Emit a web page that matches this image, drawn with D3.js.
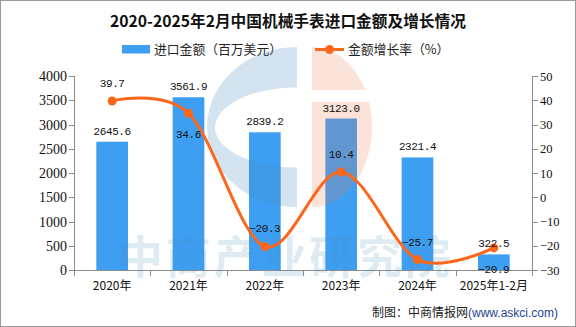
<!DOCTYPE html>
<html>
<head>
<meta charset="utf-8">
<script src="https://cdn.jsdelivr.net/npm/d3@7/dist/d3.min.js"></script>
<style>
  html, body { margin: 0; padding: 0; background: #fff; }
  svg { display: block; }
</style>
</head>
<body>
<svg id="chart" width="576" height="327"></svg>
<script>
// Mechanical watch imports, 2020 – Feb 2025
const categories = ["2020年", "2021年", "2022年", "2023年", "2024年", "2025年1-2月"];
const importValues = [2645.6, 3561.9, 2839.2, 3123.0, 2321.4, 322.5];   // million USD
const growthRates = [39.7, 34.6, -20.3, 10.4, -25.7, -20.9];             // %
const leftTicks = [0, 500, 1000, 1500, 2000, 2500, 3000, 3500, 4000];
const rightTicks = [-30, -20, -10, 0, 10, 20, 30, 40, 50];

const titleText = "2020-2025年2月中国机械手表进口金额及增长情况";
const legendBar = "进口金额（百万美元）";
const legendLine = "金额增长率（%）";
const watermarkText = "中商产业研究院";

const W = 576, H = 327;
const margin = { left: 74, right: 44, top: 76, bottom: 57 };
const plotL = margin.left, plotR = W - margin.right;
const plotT = margin.top, plotB = H - margin.bottom;

const barColor = "#3e9ef2";
const lineColor = "#fd671c";
const axisColor = "#8c8c8c";
const cjk = "'Noto Sans CJK SC', 'Noto Sans', sans-serif";

const svg = d3.select("#chart");

// frame
svg.append("rect").attr("x", 0.5).attr("y", 0.5).attr("width", W - 1).attr("height", H - 1)
  .attr("fill", "#fff").attr("stroke", "#9a9a9a");

// scales
const x = d3.scaleBand().domain(categories).range([plotL, plotR]).paddingInner(0).paddingOuter(0);
const yL = d3.scaleLinear().domain([0, 4000]).range([plotB, plotT]);
const yR = d3.scaleLinear().domain([-30, 50]).range([plotB, plotT]);
const barW = x.step() * 0.415;
const cx = c => x(c) + x.bandwidth() / 2;

// title
svg.append("text").attr("x", 288).attr("y", 27).attr("text-anchor", "middle")
  .attr("font-family", cjk).attr("font-weight", "bold").attr("font-size", 15.7)
  .attr("fill", "#111").text(titleText);

// legend
const lg = svg.append("g").attr("font-family", cjk).attr("font-size", 12.8).attr("fill", "#222");
lg.append("rect").attr("x", 122).attr("y", 45).attr("width", 28).attr("height", 8.5).attr("fill", barColor);
lg.append("text").attr("x", 154).attr("y", 53.5).text(legendBar);
lg.append("line").attr("x1", 315).attr("x2", 344).attr("y1", 49.5).attr("y2", 49.5)
  .attr("stroke", lineColor).attr("stroke-width", 3);
lg.append("circle").attr("cx", 329.5).attr("cy", 49.5).attr("r", 4.5).attr("fill", lineColor);
lg.append("text").attr("x", 348).attr("y", 53.5).text(legendLine);

// bars
svg.append("g").selectAll("rect").data(importValues).join("rect")
  .attr("x", (d, i) => cx(categories[i]) - barW / 2)
  .attr("y", d => yL(d))
  .attr("width", barW)
  .attr("height", d => yL(0) - yL(d))
  .attr("fill", barColor);

// watermark logo
const wm = svg.append("g").attr("pointer-events", "none");
const defs = svg.append("defs");
const m = defs.append("mask").attr("id", "cmask");
m.append("rect").attr("x", 0).attr("y", 0).attr("width", W).attr("height", H).attr("fill", "#fff");
m.append("ellipse").attr("cx", 297).attr("cy", 127.5).attr("rx", 82).attr("ry", 40).attr("fill", "#000");
wm.append("path")
  .attr("d", "M297,47 A90,80 0 0 0 297,207 Z")
  .attr("mask", "url(#cmask)")
  .attr("fill", "#4a8fbd").attr("opacity", 0.24);
const m2 = defs.append("mask").attr("id", "pmask");
m2.append("rect").attr("x", 0).attr("y", 0).attr("width", W).attr("height", H).attr("fill", "#fff");
m2.append("rect").attr("x", 300).attr("y", 90).attr("width", 100).attr("height", 12).attr("fill", "#000");
wm.append("path")
  .attr("d", "M312,47 A60,80 0 0 1 312,207 Z")
  .attr("mask", "url(#pmask)")
  .attr("fill", "#f0794c").attr("opacity", 0.2);

// axes
const axG = svg.append("g").attr("stroke", axisColor).attr("stroke-width", 1).attr("shape-rendering", "crispEdges");
axG.append("line").attr("x1", plotL + 0.5).attr("x2", plotL + 0.5).attr("y1", plotT).attr("y2", plotB + 0.5);
axG.append("line").attr("x1", plotR + 0.5).attr("x2", plotR + 0.5).attr("y1", plotT).attr("y2", plotB + 0.5);
axG.append("line").attr("x1", plotL).attr("x2", plotR + 1).attr("y1", plotB + 0.5).attr("y2", plotB + 0.5);

axG.selectAll(".tl").data(leftTicks).join("line")
  .attr("x1", plotL - 5).attr("x2", plotL)
  .attr("y1", d => Math.round(yL(d)) + 0.5).attr("y2", d => Math.round(yL(d)) + 0.5);
axG.selectAll(".tr").data(rightTicks).join("line")
  .attr("x1", plotR + 1).attr("x2", plotR + 6)
  .attr("y1", d => Math.round(yR(d)) + 0.5).attr("y2", d => Math.round(yR(d)) + 0.5);
const bounds = categories.map(c => x(c)).concat([x.range()[1]]);
axG.selectAll(".tb").data(bounds).join("line")
  .attr("x1", d => Math.round(d) + 0.5).attr("x2", d => Math.round(d) + 0.5)
  .attr("y1", plotB).attr("y2", plotB + 6);

svg.append("g").attr("font-family", "'Liberation Serif', serif").attr("font-size", 14).attr("fill", "#111")
  .attr("text-anchor", "end")
  .selectAll("text").data(leftTicks).join("text")
  .attr("x", plotL - 7).attr("y", d => yL(d) + 5).text(d => d);

svg.append("g").attr("font-family", "'Liberation Serif', serif").attr("font-size", 12.5).attr("fill", "#111")
  .selectAll("text").data(rightTicks).join("text")
  .attr("x", plotR + 8).attr("y", d => yR(d) + 4.5).text(d => d3.format("d")(d));

svg.append("g").attr("font-family", cjk).attr("font-size", 12).attr("fill", "#111")
  .attr("text-anchor", "middle")
  .selectAll("text").data(categories).join("text")
  .attr("x", d => cx(d)).attr("y", 290).text(d => d);

// watermark text
svg.append("text").attr("x", 118).attr("y", 274)
  .attr("textLength", 332).attr("lengthAdjust", "spacing")
  .attr("font-family", cjk).attr("font-weight", "bold").attr("font-size", 45)
  .attr("fill", "#4a8fbd").attr("opacity", 0.17).attr("pointer-events", "none")
  .text(watermarkText);

// growth line
const line = d3.line()
  .x((d, i) => cx(categories[i]))
  .y(d => yR(d))
  .curve(d3.curveCardinal.tension(0));
svg.append("path").datum(growthRates).attr("d", line)
  .attr("fill", "none").attr("stroke", lineColor).attr("stroke-width", 3);
svg.append("g").selectAll("circle").data(growthRates).join("circle")
  .attr("cx", (d, i) => cx(categories[i])).attr("cy", d => yR(d)).attr("r", 4.5).attr("fill", lineColor);

// value labels
const labelFont = "'Liberation Mono', 'DejaVu Sans Mono', monospace";
svg.append("g").attr("font-family", labelFont).attr("font-size", 11).attr("letter-spacing", -0.4)
  .attr("fill", "#111").attr("text-anchor", "middle")
  .selectAll("text").data(importValues).join("text")
  .attr("x", (d, i) => cx(categories[i])).attr("y", d => yL(d) - 7)
  .text(d => d.toFixed(1));

const growthBelow = [false, true, false, false, false, true];
svg.append("g").attr("font-family", labelFont).attr("font-size", 11).attr("letter-spacing", -0.4)
  .attr("fill", "#111").attr("text-anchor", "middle")
  .selectAll("text").data(growthRates).join("text")
  .attr("x", (d, i) => cx(categories[i]))
  .attr("y", (d, i) => growthBelow[i] ? yR(d) + 25 : yR(d) - 14)
  .text(d => d.toFixed(1).replace("-", "−"));

// source note
const src = svg.append("text").attr("x", 558).attr("y", 317).attr("text-anchor", "end")
  .attr("font-family", cjk).attr("font-size", 12).attr("fill", "#222");
src.append("tspan").text("制图：中商情报网");
src.append("tspan").attr("font-family", "'Liberation Sans', sans-serif").attr("fill", "#1f3f8f").text("(www.askci.com)");
</script>
</body>
</html>
